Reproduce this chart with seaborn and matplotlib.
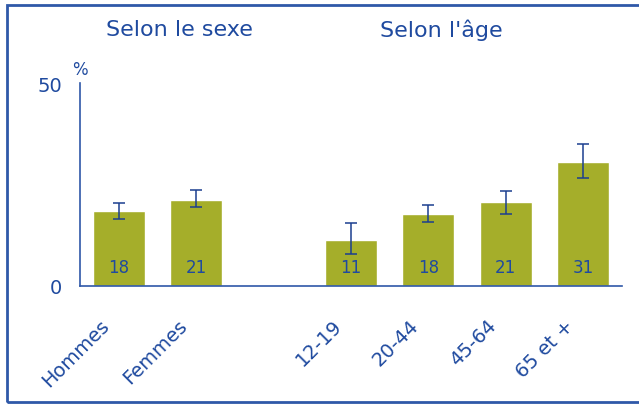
"""
Bar chart: percentage by sex and by age group, with confidence intervals
"""
import numpy as np
import pandas as pd
import matplotlib
matplotlib.use("Agg")
import matplotlib.pyplot as plt
import matplotlib.transforms as mtransforms
from matplotlib.patches import Rectangle
import seaborn as sns

# Data
categories = ["Hommes", "Femmes", "12-19", "20-44", "45-64", "65 et +"]
values = [18.5, 21.3, 11.4, 17.8, 20.7, 30.5]
value_labels = ["18", "21", "11", "18", "21", "31"]
ci_low = [16.5, 19.5, 7.9, 15.8, 17.8, 26.5]
ci_high = [20.4, 23.6, 15.6, 19.9, 23.4, 35.0]
group_titles = ["Selon le sexe", "Selon l'âge"]
y_ticks = [0, 50]

BAR_COLOR = "#A5AE2A"
TEXT_COLOR = "#1F4A9F"
LINE_COLOR = "#2F58A8"
ERR_COLOR = "#1B3F8F"

sns.set_style("white")
plt.rcParams['font.family'] = ['DejaVu Sans']

df = pd.DataFrame({"groupe": categories, "pct": values})
# a blank slot separates the two groups
order = categories[:2] + [" "] + categories[2:]

fig = plt.figure(figsize=(6.39, 4.06), dpi=100)
ax = fig.add_axes([80 / 639, 1 - 287 / 406, 542 / 639, 203 / 406])

sns.barplot(data=df, x="groupe", y="pct", order=order, color=BAR_COLOR,
            saturation=1, width=0.67, ax=ax)

# Error bars and values inside the bars
pos = np.array([order.index(c) for c in categories])
vals = np.array(values)
yerr = [vals - np.array(ci_low), np.array(ci_high) - vals]
ax.errorbar(pos, vals, yerr=yerr, fmt="none", ecolor=ERR_COLOR,
            elinewidth=1.1, capsize=4.5, capthick=1.1, zorder=3)
for p, lab in zip(pos, value_labels):
    ax.text(p, 4.6, lab, ha="center", va="center", fontsize=12, color=TEXT_COLOR)

ax.set_xlim(-0.5, len(order) - 0.5)
ax.set_ylim(0, 50)
ax.set_yticks(y_ticks)
ax.set_yticklabels([str(t) for t in y_ticks], fontsize=14, color=TEXT_COLOR)
ax.set_xlabel("")
ax.set_ylabel("")
ax.tick_params(axis="both", length=0)
ax.tick_params(axis="y", pad=13)
ax.tick_params(axis="x", pad=21)

offset = mtransforms.ScaledTranslation(-19 / 100, 0, fig.dpi_scale_trans)
for lab in ax.get_xticklabels():
    lab.set_rotation(45)
    lab.set_ha("right")
    lab.set_va("top")
    lab.set_rotation_mode("anchor")
    lab.set_fontsize(14)
    lab.set_color(TEXT_COLOR)
    lab.set_transform(lab.get_transform() + offset)

sns.despine(ax=ax)
for side in ["left", "bottom"]:
    ax.spines[side].set_color(LINE_COLOR)
    ax.spines[side].set_linewidth(1.2)

# Unit and group titles
ax.text(-0.5, 53.5, "%", fontsize=12, color=TEXT_COLOR, ha="center", va="center")
fig.text(179 / 639, 1 - 30 / 406, group_titles[0], fontsize=16,
         color=TEXT_COLOR, ha="center", va="center")
fig.text(441 / 639, 1 - 30 / 406, group_titles[1], fontsize=16,
         color=TEXT_COLOR, ha="center", va="center")

# Frame around the figure (right side runs off the canvas)
fig.patches.append(Rectangle((7 / 639, 1 - 403 / 406), 700 / 639, 397 / 406,
                             transform=fig.transFigure, fill=False,
                             edgecolor=LINE_COLOR, linewidth=2))

fig.savefig("out.png", dpi=100)
